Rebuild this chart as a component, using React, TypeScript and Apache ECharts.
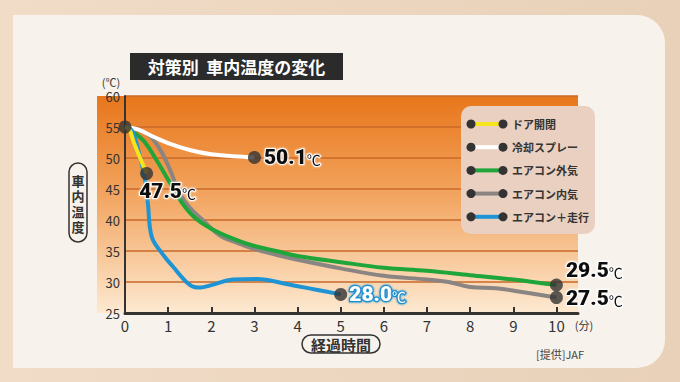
import React, { useEffect, useRef } from "react";
import * as echarts from "echarts";

const seriesNames = ["ドア開閉", "冷却スプレー", "エアコン外気", "エアコン内気", "エアコン＋走行"];
const seriesColors = ["#f7e51b", "#ffffff", "#1fa53a", "#8a8582", "#1f94d4"];

const doorOpen = [[0, 55], [0.1, 54.6], [0.2, 52.6], [0.35, 50], [0.5, 47.5]];
const coolingSpray = [[0, 55], [0.3, 54.6], [0.7, 53.3], [1, 52.4], [1.5, 51.3], [2, 50.6], [2.5, 50.3], [3, 50.1]];
const acOutside = [[0, 55], [0.4, 53], [0.7, 50], [1, 46.5], [1.3, 43], [1.6, 40.5], [2, 38.6], [2.5, 37], [3, 35.8], [3.5, 35], [4, 34.2], [5, 33.2], [6, 32.3], [7, 31.8], [8, 31.1], [9, 30.4], [10, 29.5]];
const acInside = [[0, 55], [0.5, 54], [0.8, 51.5], [1.05, 48], [1.25, 44.5], [1.5, 42], [1.8, 40], [2.2, 37.5], [2.6, 36.3], [3, 35.3], [3.5, 34.4], [4, 33.6], [5, 32.2], [6, 31], [7, 30.4], [7.5, 30], [8, 29.2], [8.6, 29], [9.2, 28.4], [10, 27.5]];
const acDriving = [[0, 55], [0.15, 54.5], [0.3, 51.5], [0.45, 47], [0.53, 42.7], [0.62, 37.3], [0.85, 34.7], [1.11, 32.5], [1.51, 29.5], [1.75, 29.1], [2.0, 29.5], [2.5, 30.4], [3.05, 30.5], [3.8, 29.6], [4.4, 28.8], [5, 28.0]];

const xTicks = [0, 1, 2, 3, 4, 5, 6, 7, 8, 9, 10];
const yTicks = [25, 30, 35, 40, 45, 50, 55, 60];

const endpointStart = [0, 55];
const endDoor = [0.5, 47.5];
const endSpray = [3, 50.1];
const endDriving = [5, 28.0];
const endOutside = [10, 29.5];
const endInside = [10, 27.5];

const FONT = "'Noto Sans CJK JP', 'Noto Sans', sans-serif";
const NUMFONT = "Roboto, 'Noto Sans', sans-serif";

export default function App() {
  const ref = useRef<HTMLDivElement>(null);
  useEffect(() => {
    if (!ref.current) return;
    const chart = echarts.init(ref.current, null, { renderer: "svg" });
    const allData = [doorOpen, coolingSpray, acOutside, acInside, acDriving];
    const drawOrder = [3, 2, 1, 4, 0];

    const styleFor = (dark: boolean) =>
      dark
        ? { color: "#111111", opacity: 1, textBorderColor: "#ffffff", textBorderWidth: 2, textShadowColor: "rgba(255,255,255,0.9)", textShadowBlur: 2 }
        : { color: "#ffffff", opacity: 1, textBorderColor: "#1f8fd0", textBorderWidth: 2.5, textShadowColor: "#1f8fd0", textShadowBlur: 2 };
    const lbl = (v: number, dark: boolean, extra: any) => {
      const s = styleFor(dark);
      return {
        show: true,
        formatter: `{n|${v.toFixed(1)}}{u|℃}`,
        ...s,
        rich: {
          n: { fontFamily: NUMFONT, fontSize: 21, fontWeight: 900, ...s },
          u: { fontFamily: FONT, fontSize: 14, padding: [4, 0, 0, 0], ...s },
        },
        ...extra,
      };
    };

    const legendItems: any[] = [];
    seriesNames.forEach((name, i) => {
      const y = 124 + 23.2 * i;
      legendItems.push(
        { type: "line", shape: { x1: 471, y1: y, x2: 503, y2: y }, style: { stroke: seriesColors[i], lineWidth: 4 }, z: 101 },
        { type: "circle", shape: { cx: 471, cy: y, r: 4.5 }, style: { fill: "#333" }, z: 102 },
        { type: "circle", shape: { cx: 503, cy: y, r: 4.5 }, style: { fill: "#333" }, z: 102 },
        { type: "text", x: 512, y, style: { text: name, fill: "#333", font: `bold 11px ${FONT}`, verticalAlign: "middle" }, z: 102 }
      );
    });

    const yNameChars = ["車", "内", "温", "度"];

    chart.setOption({
      animation: false,
      backgroundColor: new echarts.graphic.LinearGradient(0, 0, 1, 0, [
        { offset: 0, color: "#f1dcc8" },
        { offset: 1, color: "#e8d1b8" },
      ]),
      grid: { left: 125, right: 680 - 578, top: 96, bottom: 382 - 313 },
      xAxis: {
        type: "value", min: 0, max: 10.5, interval: 1,
        axisLine: { lineStyle: { color: "#333", width: 3 } },
        axisTick: { show: true, inside: true, length: 6, lineStyle: { color: "#333", width: 2 }, customValues: xTicks.slice(1) },
        axisLabel: { customValues: xTicks, fontFamily: FONT, fontSize: 15, color: "#333", margin: 5 },
        splitLine: { show: false },
      },
      yAxis: {
        type: "value", min: 25, max: 60, interval: 5,
        axisLine: { show: true, lineStyle: { color: "#333", width: 2 } },
        axisTick: { show: false },
        axisLabel: { customValues: yTicks, fontFamily: FONT, fontSize: 13, color: "#333", margin: 5 },
        splitLine: { show: true, lineStyle: { color: "#c9692a", width: 1.5 } },
      },
      graphic: [
        { type: "rect", shape: { x: 13, y: 15, width: 652, height: 353, r: [0, 28, 28, 0] }, style: { fill: "#f7f2eb" }, z: -30 },
        {
          type: "rect", shape: { x: 97, y: 96, width: 481, height: 217 }, z: -20,
          style: {
            fill: new echarts.graphic.LinearGradient(0, 0, 0, 1, [
              { offset: 0, color: "#e8761b" },
              { offset: 0.45, color: "#f2a45e" },
              { offset: 1, color: "#fde9d1" },
            ]),
          },
        },
        { type: "rect", shape: { x: 130, y: 53, width: 213, height: 27 }, style: { fill: "#2b2b2b" }, z: 50 },
        { type: "text", x: 236.5, y: 66.5, style: { text: "対策別  車内温度の変化", fill: "#fff", font: `bold 17px ${FONT}`, align: "center", verticalAlign: "middle" }, z: 51 },
        { type: "text", x: 111, y: 82, style: { text: "(℃)", fill: "#333", font: `11px ${FONT}`, align: "center", verticalAlign: "middle" }, z: 51 },
        { type: "rect", shape: { x: 69, y: 163, width: 18, height: 79, r: 9 }, style: { fill: "none", stroke: "#333", lineWidth: 1.5 }, z: 51 },
        ...yNameChars.map((c, i) => ({
          type: "text", x: 78, y: 180 + 15.5 * i,
          style: { text: c, fill: "#333", font: `bold 13px ${FONT}`, align: "center", verticalAlign: "middle" }, z: 51,
        })),
        { type: "rect", shape: { x: 302, y: 335, width: 78, height: 18, r: 9 }, style: { fill: "none", stroke: "#333", lineWidth: 1.5 }, z: 51 },
        { type: "text", x: 341, y: 344, style: { text: "経過時間", fill: "#333", font: `bold 15px ${FONT}`, align: "center", verticalAlign: "middle" }, z: 51 },
        { type: "text", x: 584, y: 325, style: { text: "(分)", fill: "#333", font: `11px ${FONT}`, align: "center", verticalAlign: "middle" }, z: 51 },
        { type: "text", x: 560, y: 354, style: { text: "[提供]JAF", fill: "#444", font: `11px ${FONT}`, align: "center", verticalAlign: "middle" }, z: 51 },
        { type: "rect", shape: { x: 461, y: 106, width: 134, height: 128, r: 10 }, style: { fill: "#e9d0c1" }, z: 100 },
        ...legendItems,
      ],
      series: [
        ...drawOrder.map((i) => ({
          type: "line", name: seriesNames[i], data: allData[i], smooth: 0.4,
          showSymbol: false, lineStyle: { color: seriesColors[i], width: 4 }, z: 3,
        })),
        {
          type: "scatter", symbolSize: 13, itemStyle: { color: "#333" }, z: 5,
          emphasis: { disabled: true },
          data: [
            { value: endpointStart },
            { value: endDoor, label: lbl(endDoor[1], true, { position: "bottom", distance: 0, offset: [21, 0] }) },
            { value: endSpray, label: lbl(endSpray[1], true, { position: "right", distance: 3 }) },
            { value: endDriving, label: lbl(endDriving[1], false, { position: "right", distance: 2 }) },
            { value: endOutside, label: lbl(endOutside[1], true, { position: "right", distance: 3, offset: [0, -15] }) },
            { value: endInside, label: lbl(endInside[1], true, { position: "right", distance: 3 }) },
          ],
        },
      ],
    });
    return () => chart.dispose();
  }, []);
  return <div ref={ref} style={{ position: "fixed", left: 0, top: 0, width: 680, height: 382 }} />;
}
